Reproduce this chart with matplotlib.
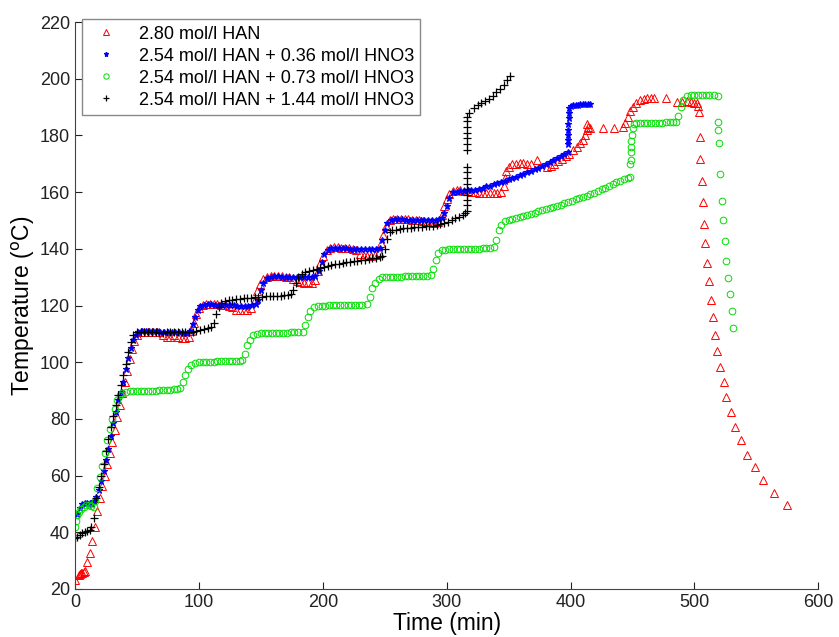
import matplotlib.pyplot as plt

plt.rcParams['font.family'] = ['Liberation Sans', 'DejaVu Sans']

labels = ["2.80 mol/l HAN",
          "2.54 mol/l HAN + 0.36 mol/l HNO3",
          "2.54 mol/l HAN + 0.73 mol/l HNO3",
          "2.54 mol/l HAN + 1.44 mol/l HNO3"]

# (time min, temperature C)
red = [(0, 23.0), (3, 25.0), (4, 25.3), (5, 25.5), (6, 25.8), (7, 26.0), (8, 26.5),
       (10, 29.5), (12, 32.7), (14, 37), (16, 42), (18, 47.5), (20, 52), (22, 56.5),
       (24, 60), (26, 64), (28, 68), (30, 72), (32, 76), (34, 80.5), (36, 85), (38, 89),
       (40, 93), (42, 97), (44, 101), (46, 104.5), (48, 107.5), (50, 109.5), (53, 110.5),
       (56, 110.8), (59, 110.8), (62, 110.8), (65, 110.7), (68, 110.6), (71, 109.5),
       (74, 109), (77, 109), (80, 109.5), (83, 109), (86, 108.5), (89, 108.7), (92, 109),
       (94, 111), (96, 114), (98, 117), (100, 119), (103, 120.3),
       (106, 120.5), (109, 120.5), (112, 120.5), (115, 120.4), (118, 120.3), (121, 120.2),
       (124, 120), (127, 119.5), (130, 118.5), (133, 118.4), (136, 118.5), (139, 118.3),
       (142, 119), (145, 122), (147, 125), (149, 127.5), (152, 129.5), (155, 130.2),
       (158, 130.5), (161, 130.5), (164, 130.4), (167, 130.3), (170, 130.2), (173, 130),
       (176, 129.5), (179, 128.5), (182, 128.2), (185, 128), (188, 128.3), (191, 128),
       (194, 129), (196, 132), (198, 135), (200, 137.5), (203, 139.5), (206, 140.3),
       (209, 140.5), (212, 140.5), (215, 140.4), (218, 140.3), (221, 140.2), (224, 140),
       (227, 139.5), (230, 138), (233, 137.5), (236, 137.6), (239, 137.5), (242, 137.8),
       (245, 139), (247, 142), (249, 145), (251, 148), (254, 150), (257, 150.4),
       (260, 150.6), (263, 150.6), (266, 150.5), (269, 150.4), (272, 150.3), (275, 150.2),
       (278, 150), (281, 149.8), (284, 149.6), (287, 149.5), (290, 149.2), (293, 149.5),
       (296, 152), (298, 155), (300, 157.5), (302, 159.5), (305, 160.5),
       (308, 160.6), (311, 160.6), (314, 160.5), (317, 160.4), (320, 160.2), (323, 160),
       (326, 159.8), (329, 159.7), (332, 159.7), (335, 159.6), (338, 159.7), (341, 159.6),
       (344, 160), (346, 162), (347, 165), (348, 167.5), (350, 169), (353, 169.8),
       (356, 170), (359, 170.2), (362, 170.2), (365, 170.0), (368, 169.8), (373, 171.3),
       (381, 168.8), (384, 169.3), (387, 170), (390, 171), (393, 171.8), (396, 172.7),
       (399, 173.5), (402, 174.8), (405, 176), (408, 177.2), (410, 178.4), (412, 180),
       (413, 182), (413.5, 184), (414, 183), (416, 182.5), (426, 182.6), (435, 182.6),
       (442, 182.8), (444, 184.5), (446, 186.5), (448, 188.5), (450, 190), (453, 191.5),
       (456, 192.5), (459, 193), (462, 193.2), (465, 193.2), (467, 193.2), (477, 193.2),
       (486, 191.8), (490, 191.8), (494, 192), (497, 191.8), (500, 191.5), (502, 191.5),
       (503, 190.5), (503.5, 188.4), (504.3, 179.6), (504.8, 171.7), (505.9, 164.0),
       (506.7, 156.4), (507.8, 148.8), (508.9, 142.0), (510.3, 135.0), (511.6, 128.5),
       (513, 122.0), (514.8, 115.9), (516.2, 109.7), (518.3, 103.8), (521, 98.3),
       (523.7, 92.9), (525.8, 87.7), (529.1, 82.3), (533.1, 77.2), (537.2, 72.5),
       (542.6, 67.4), (548.7, 62.9), (555.5, 58.3), (564, 53.9), (574.3, 49.5)]

blue = [(2, 46.5), (4, 48.5), (6, 50), (8, 50.5), (10, 50.5), (12, 50.3), (14, 50),
        (15, 51), (17, 52.5), (19, 55), (21, 58), (23, 61.5), (25, 65.5), (27, 69.5),
        (29, 74), (31, 78.5), (33, 82.5), (35, 86.5), (37, 89.5), (39, 93), (41, 97.5),
        (43, 101.5), (45, 105), (47, 108), (49, 109.7), (51, 110.6),
        (54, 111), (57, 111), (60, 111), (63, 111), (66, 111), (69, 110.8), (72, 110.8),
        (75, 110.7), (78, 110.6), (81, 110.6), (84, 110.5), (87, 110.4), (90, 110.4),
        (93, 111), (95, 113.5), (97, 116), (99, 118.5), (101, 119.7), (104, 120.3),
        (107, 120.4), (110, 120.4), (113, 120.3), (116, 120.3), (119, 120.2), (122, 120.2),
        (125, 120.1), (128, 120.1), (131, 120), (134, 120), (137, 120), (140, 120),
        (143, 120.1), (146, 120.4), (148, 122), (150, 125.5), (152, 128), (155, 129.6),
        (158, 130.2), (161, 130.3), (164, 130.3), (167, 130.2), (170, 130.2), (173, 130.1),
        (176, 130.1), (179, 130), (182, 130), (185, 130), (188, 130), (191, 130.1),
        (194, 130.3), (197, 132), (199, 135.5), (201, 138), (204, 139.7),
        (207, 140.2), (210, 140.3), (213, 140.3), (216, 140.2), (219, 140.2), (222, 140.1),
        (225, 140.1), (228, 140), (231, 140), (234, 140), (237, 140), (240, 140),
        (243, 140.1), (246, 140.4), (248, 143), (250, 146.5), (252, 149), (255, 150.2),
        (258, 150.4), (261, 150.4), (264, 150.4), (267, 150.3), (270, 150.3), (273, 150.2),
        (276, 150.2), (279, 150.2), (282, 150.1), (285, 150.1), (288, 150.1), (291, 150.2),
        (294, 150.4), (296, 151), (298, 152.5), (300, 155), (302, 158), (305, 160),
        (308, 160.2), (311, 160.4), (314, 160.5), (317, 160.6), (320, 160.7), (323, 160.9),
        (326, 161.1), (329, 161.5), (332, 162), (335, 162.3), (338, 162.7), (341, 163.1),
        (344, 163.6), (347, 164), (350, 164.5), (353, 165), (356, 165.5), (359, 166),
        (362, 166.5), (365, 167.1), (368, 167.6), (371, 168.1), (374, 168.6), (377, 169.2),
        (380, 169.8), (383, 170.5), (386, 171.2), (389, 171.9), (392, 172.6), (395, 173.4),
        (398, 174.2), (398, 177), (398, 178.5), (398, 180), (398, 182), (398, 184),
        (398.5, 186), (398.5, 188), (399, 189.5), (400, 190.5), (402, 190.8), (404, 190.8),
        (406, 190.8), (408, 191), (410, 191), (412, 191), (414, 191), (416, 191)]

green = [(0, 42), (1, 44), (2, 46), (3, 47.3), (5, 48.3), (7, 49), (9, 49.5), (11, 49.5),
         (13, 49.3), (15, 49), (16, 51), (18, 55.5), (20, 59.5), (22, 63.5), (24, 68),
         (26, 72.5), (28, 76.5), (30, 80), (32, 83.5), (34, 86.5), (36, 88.5), (38, 89.3),
         (41, 89.6), (44, 89.7), (47, 89.8), (50, 89.8), (53, 89.9), (56, 89.9), (59, 90),
         (62, 90), (65, 90), (68, 90.1), (71, 90.2), (74, 90.2), (77, 90.3), (80, 90.4),
         (82, 90.5), (85, 91), (87, 93), (89, 95.5), (91, 97.5), (94, 99), (97, 99.7),
         (100, 100), (103, 100.1), (106, 100.1), (109, 100.2), (112, 100.2), (115, 100.3),
         (118, 100.3), (121, 100.4), (124, 100.4), (127, 100.5), (130, 100.5), (133, 100.5),
         (135, 100.7), (137, 103), (139, 106), (141, 108), (144, 109.5), (147, 110),
         (150, 110.2), (153, 110.2), (156, 110.3), (159, 110.3), (162, 110.3), (165, 110.4),
         (168, 110.4), (171, 110.4), (174, 110.5), (177, 110.5), (180, 110.5), (184, 110.7),
         (186, 113), (188, 116), (190, 118), (193, 119.3), (196, 119.8),
         (199, 120), (202, 120), (205, 120.1), (208, 120.1), (211, 120.1), (214, 120.2),
         (217, 120.2), (220, 120.2), (223, 120.2), (226, 120.3), (229, 120.3), (232, 120.3),
         (236, 120.5), (238, 123), (240, 126), (242, 128), (245, 129.5), (248, 130),
         (251, 130.1), (254, 130.1), (257, 130.2), (260, 130.2), (263, 130.2), (266, 130.3),
         (269, 130.3), (272, 130.3), (275, 130.4), (278, 130.4), (281, 130.4), (284, 130.5),
         (287, 130.7), (289, 133), (291, 136), (293, 138.5), (296, 139.5), (299, 139.7),
         (302, 139.8), (305, 139.8), (308, 139.9), (311, 139.9), (314, 140), (317, 140),
         (320, 140), (323, 140.1), (326, 140.1), (329, 140.2), (332, 140.2), (335, 140.3),
         (338, 140.5), (340, 143), (342, 146.5), (344, 148.5), (347, 149.7), (350, 150.2),
         (353, 150.6), (356, 150.9), (359, 151.3), (362, 151.6), (365, 152), (368, 152.4),
         (371, 152.8), (374, 153.2), (377, 153.6), (380, 154), (383, 154.4), (386, 154.8),
         (389, 155.2), (392, 155.6), (395, 156), (398, 156.4), (401, 156.9), (404, 157.4),
         (407, 157.8), (410, 158.3), (413, 158.8), (416, 159.3), (419, 159.8), (422, 160.4),
         (425, 161), (428, 161.6), (431, 162.2), (434, 162.8), (437, 163.4), (440, 164),
         (443, 164.5), (446, 165), (448, 165.5), (448, 170), (448.5, 171.5), (448.5, 174),
         (449, 176), (449, 178), (449.5, 180), (450, 182.5), (451, 184), (453, 184.4),
         (456, 184.4), (459, 184.4), (462, 184.4), (465, 184.5), (468, 184.5), (471, 184.5),
         (474, 184.5), (477, 184.6), (480, 184.6), (483, 184.6), (485, 184.7), (487, 187),
         (489, 190), (491, 192.5), (494, 194), (497, 194.3), (500, 194.3), (503, 194.3),
         (506, 194.3), (509, 194.3), (512, 194.3), (516, 194.3), (519, 194),
         (519.1, 184.8), (519.1, 181.9), (519.6, 177.4), (521, 166.5), (522.4, 157),
         (523.4, 150), (525, 142.9), (525.8, 135.7), (526.9, 129.7), (528.3, 124),
         (529.9, 118), (531.5, 112)]

black = [(0, 38), (2, 38.5), (4, 39), (6, 39.7), (8, 40), (10, 40.4), (12, 40.8),
         (13, 42), (15, 45), (17, 52), (19, 56), (21, 60), (23, 64), (25, 68.5), (27, 73),
         (29, 77), (31, 81), (33, 85), (35, 88.5), (37, 92), (39, 95.5), (41, 99.5),
         (43, 103.5), (45, 107), (47, 109.5), (50, 110.5),
         (53, 110.6), (56, 110.6), (59, 110.5), (62, 110.5), (65, 110.5), (68, 110.4),
         (71, 110.4), (74, 110.5), (77, 110.5), (80, 110.6), (83, 110.6), (86, 110.7),
         (89, 110.7), (92, 110.6), (95, 110.6), (98, 110.9), (101, 111.2), (104, 111.6),
         (107, 112), (110, 112.3), (112, 114), (114, 117), (116, 119.5), (118, 121),
         (121, 121.5), (124, 121.8), (127, 122), (130, 122.2), (133, 122.4), (136, 122.5),
         (139, 122.6), (142, 122.8), (145, 122.9), (148, 123), (151, 123.1), (154, 123.2),
         (157, 123.3), (160, 123.4), (163, 123.5), (166, 123.5), (169, 123.6), (172, 123.7),
         (174, 124), (176, 125.5), (178, 128), (180, 130), (183, 131), (186, 131.8),
         (189, 132.2), (192, 132.5), (195, 132.8), (198, 133.2), (201, 133.6), (204, 134),
         (207, 134.3), (210, 134.6), (213, 134.8), (216, 135), (219, 135.2), (222, 135.4),
         (225, 135.6), (228, 135.8), (231, 136), (234, 136.2), (237, 136.4), (240, 136.6),
         (243, 136.8), (246, 137), (248, 137.5), (250, 140), (252, 143.5), (254, 146),
         (256, 146.5), (259, 146.8), (262, 147), (265, 147.2), (268, 147.4), (271, 147.5),
         (274, 147.6), (277, 147.7), (280, 147.8), (283, 147.9), (286, 148), (289, 148.2),
         (292, 148.5), (295, 148.8), (298, 149.2), (301, 149.6), (304, 150.1), (307, 150.7),
         (310, 151.3), (313, 152), (315, 152.6),
         (316, 153.5), (316, 155.5), (316, 157.2), (316, 159), (316, 161), (316, 163),
         (316, 165), (316, 167), (316, 168.9), (316, 174.9), (316, 177), (316, 179),
         (316, 181), (316, 183), (316, 185), (316.5, 186.5), (318, 188), (322, 189.7),
         (325, 190.7), (328, 191.5), (331, 192.3), (334, 193), (337, 194), (340, 195.3),
         (343, 196.5), (346, 197.8), (349, 199.5), (351, 201)]

series = [(red, "red", "^", 5.5),
          (blue, "blue", "*", 4.5),
          (green, "#00dd00", "o", 4.8),
          (black, "black", "+", 6)]

fig = plt.figure(figsize=(8.39, 6.37), dpi=100)
ax = fig.add_axes([0.0894, 0.0754, 0.886, 0.890])

for (data, color, marker, ms), label in zip(series, labels):
    t = [p[0] for p in data]
    T = [p[1] for p in data]
    if marker in ("^", "o"):
        ax.plot(t, T, linestyle="none", marker=marker, markersize=ms,
                markerfacecolor="none", markeredgecolor=color,
                markeredgewidth=0.7, label=label)
    else:
        ax.plot(t, T, linestyle="none", marker=marker, markersize=ms,
                color=color, markeredgewidth=0.9, label=label)

ax.set_xlim(0, 600)
ax.set_ylim(20, 220)
ax.set_xticks(range(0, 601, 100))
ax.set_yticks(range(20, 221, 20))
ax.tick_params(direction="in", length=5, labelsize=13, colors="#222222")
for s in ("top", "right"):
    ax.spines[s].set_visible(False)
for s in ("left", "bottom"):
    ax.spines[s].set_color("#444444")

ax.set_xlabel("Time (min)", fontsize=16.5, labelpad=1)
ax.set_ylabel("Temperature ($^{\\rm o}$C)", fontsize=16.5, labelpad=2)

leg = ax.legend(loc="upper left", bbox_to_anchor=(0.009, 1.005), fontsize=13,
                labelspacing=0.28, fancybox=False, framealpha=1, borderaxespad=0,
                handletextpad=0.8, borderpad=0.35, markerscale=0.8)
leg.get_frame().set_edgecolor("#888888")
leg.get_frame().set_linewidth(1.0)

fig.savefig("out.png", dpi=100)
